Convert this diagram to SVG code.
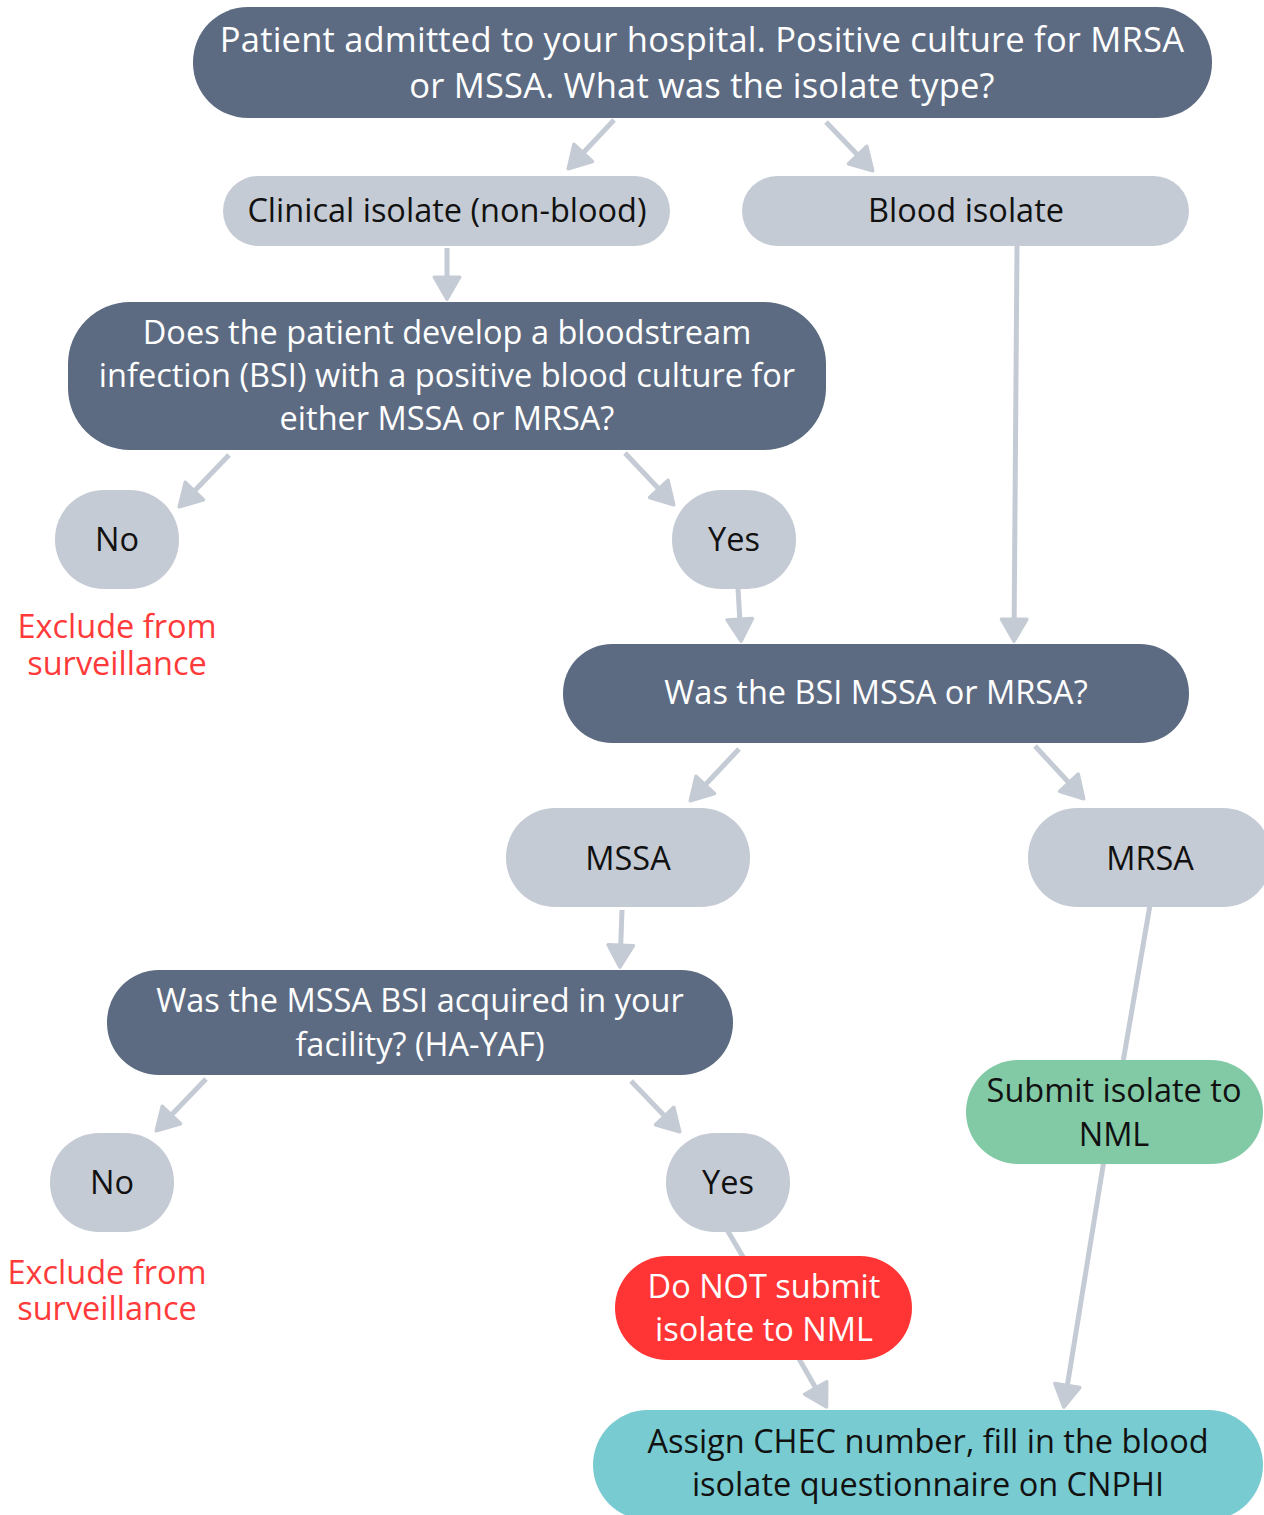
<svg xmlns="http://www.w3.org/2000/svg" width="1264" height="1515" viewBox="0 0 1264 1515">
<style>
.dark{fill:#5d6b82}
.light{fill:#c5cbd4}
.t{font-family:"Open Sans","Noto Sans",sans-serif;font-size:32.5px;text-anchor:middle}
.big{font-size:34.5px;letter-spacing:0.2px}
.w{fill:#ffffff}
.b{fill:#111111}
.r{fill:#ff3a3a}
.c{fill:none;stroke:#c5cbd4;stroke-width:5}
</style>
<defs>
<marker id="ah" markerUnits="userSpaceOnUse" markerWidth="30" markerHeight="30" viewBox="-2 -2 24 26" refX="18" refY="11" orient="auto">
<path d="M0,0 L19,11 L0,22 z" fill="#c5cbd4" stroke="#c5cbd4" stroke-width="3" stroke-linejoin="round"/>
</marker>
</defs>
<rect width="1264" height="1515" fill="#ffffff"/>
<g id="connectors">
<path class="c" d="M614,120 L569,168" marker-end="url(#ah)"/>
<path class="c" d="M826,122 L872,170" marker-end="url(#ah)"/>
<path class="c" d="M447,248 L447,298" marker-end="url(#ah)"/>
<path class="c" d="M1017,246 L1014,640" marker-end="url(#ah)"/>
<path class="c" d="M229,455 L180,506" marker-end="url(#ah)"/>
<path class="c" d="M625,453 L673,504" marker-end="url(#ah)"/>
<path class="c" d="M738,588 L741,640" marker-end="url(#ah)"/>
<path class="c" d="M739,749 L691,800" marker-end="url(#ah)"/>
<path class="c" d="M1035,746 L1083,798" marker-end="url(#ah)"/>
<path class="c" d="M622,910 L620,966" marker-end="url(#ah)"/>
<path class="c" d="M1150,905 L1123,1062"/>
<path class="c" d="M1104,1160 L1064,1406" marker-end="url(#ah)"/>
<path class="c" d="M206,1079 L157,1130" marker-end="url(#ah)"/>
<path class="c" d="M631,1081 L679,1131" marker-end="url(#ah)"/>
<path class="c" d="M726,1228 L746,1262"/>
<path class="c" d="M794,1350 L826,1406" marker-end="url(#ah)"/>
</g>
<g id="n-top">
<rect class="dark" x="193" y="7" width="1019" height="111" rx="55"/>
<text class="t big w" x="702" y="52">Patient admitted to your hospital. Positive culture for MRSA</text>
<text class="t big w" x="702" y="98">or MSSA. What was the isolate type?</text>
</g>
<g id="n-clinical">
<rect class="light" x="223" y="176" width="447" height="70" rx="35"/>
<text class="t b" x="447" y="222">Clinical isolate (non-blood)</text>
</g>
<g id="n-blood">
<rect class="light" x="742" y="176" width="447" height="70" rx="35"/>
<text class="t b" x="966" y="222">Blood isolate</text>
</g>
<g id="n-develop">
<rect class="dark" x="68" y="302" width="758" height="148" rx="62"/>
<text class="t w" x="447" y="344">Does the patient develop a bloodstream</text>
<text class="t w" x="447" y="387">infection (BSI) with a positive blood culture for</text>
<text class="t w" x="447" y="430">either MSSA or MRSA?</text>
</g>
<g id="n-no1">
<rect class="light" x="55" y="490" width="124" height="99" rx="49"/>
<text class="t b" x="117" y="551">No</text>
</g>
<g id="n-exclude1">
<text class="t r" x="117" y="638">Exclude from</text>
<text class="t r" x="117" y="675">surveillance</text>
</g>
<g id="n-yes1">
<rect class="light" x="672" y="490" width="124" height="99" rx="49"/>
<text class="t b" x="734" y="551">Yes</text>
</g>
<g id="n-bsitype">
<rect class="dark" x="563" y="644" width="626" height="99" rx="49"/>
<text class="t w" x="876" y="704">Was the BSI MSSA or MRSA?</text>
</g>
<g id="n-mssa">
<rect class="light" x="506" y="808" width="244" height="99" rx="49"/>
<text class="t b" x="628" y="870">MSSA</text>
</g>
<g id="n-mrsa">
<rect class="light" x="1028" y="808" width="244" height="99" rx="49"/>
<text class="t b" x="1150" y="870">MRSA</text>
</g>
<g id="n-acquired">
<rect class="dark" x="107" y="970" width="626" height="105" rx="52"/>
<text class="t w" x="420" y="1012">Was the MSSA BSI acquired in your</text>
<text class="t w" x="420" y="1056">facility? (HA-YAF)</text>
</g>
<g id="n-no2">
<rect class="light" x="50" y="1133" width="124" height="99" rx="49"/>
<text class="t b" x="112" y="1194">No</text>
</g>
<g id="n-exclude2">
<text class="t r" x="107" y="1284">Exclude from</text>
<text class="t r" x="107" y="1320">surveillance</text>
</g>
<g id="n-yes2">
<rect class="light" x="666" y="1133" width="124" height="99" rx="49"/>
<text class="t b" x="728" y="1194">Yes</text>
</g>
<g id="n-submit">
<rect x="966" y="1060" width="297" height="104" rx="52" fill="#82c9a6"/>
<text class="t b" x="1114" y="1102">Submit isolate to</text>
<text class="t b" x="1114" y="1146">NML</text>
</g>
<g id="n-donot">
<rect x="615" y="1256" width="297" height="104" rx="52" fill="#ff3535"/>
<text class="t w" x="764" y="1298">Do NOT submit</text>
<text class="t w" x="764" y="1341">isolate to NML</text>
</g>
<g id="n-assign">
<rect x="593" y="1410" width="670" height="110" rx="55" fill="#78cbd0"/>
<text class="t b" x="928" y="1453">Assign CHEC number, fill in the blood</text>
<text class="t b" x="928" y="1496">isolate questionnaire on CNPHI</text>
</g>
</svg>
